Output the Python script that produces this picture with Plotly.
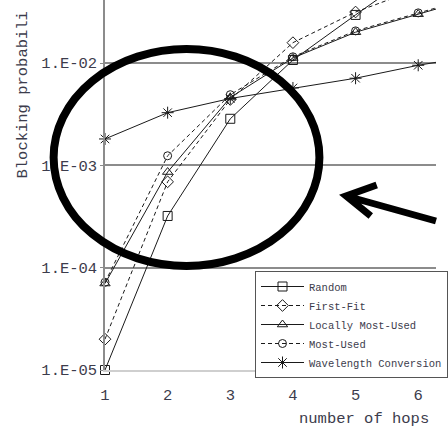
import plotly.graph_objects as go

# ---- data ----
hops = [1, 2, 3, 4, 5, 6, 7]
random_bp = [1.0e-5, 3.2e-4, 2.85e-3, 1.07e-2, 2.95e-2, 8.0e-2, 1.5e-1]
first_fit_bp = [2.0e-5, 6.9e-4, 4.4e-3, 1.58e-2, 3.15e-2, 5.3e-2, 8.5e-2]
locally_most_used_bp = [7.0e-5, 8.6e-4, 4.6e-3, 1.12e-2, 2.0e-2, 3.0e-2, 4.5e-2]
most_used_bp = [7.2e-5, 1.24e-3, 4.9e-3, 1.15e-2, 2.06e-2, 3.09e-2, 4.6e-2]
wavelength_conv_bp = [1.81e-3, 3.27e-3, 4.5e-3, 5.7e-3, 7.1e-3, 9.5e-3, 1.2e-2]

y_tickvals = [1e-5, 1e-4, 1e-3, 1e-2]
y_ticktext = ["1.E-05", "1.E-04", "1.E-03", "1.E-02"]
x_tickvals = [1, 2, 3, 4, 5, 6]

# ---- layout geometry ----
W, H = 448, 430
ML, MR, MT, MB = 105, 8, 0, 60
PW, PH = W - ML - MR, H - MT - MB

def px(x):
    return (x - ML) / PW

def py(y):
    return (H - MB - y) / PH

FONT = "Courier New, Liberation Mono, monospace"
TXT = "#3c3c4c"
LINE = "#1a1a1a"
DASH = "4px,3px"
FS = 15.5

series = [
    ("Random", random_bp, "square-open", 9, "solid"),
    ("First-Fit", first_fit_bp, "diamond-open", 9, DASH),
    ("Locally Most-Used", locally_most_used_bp, "triangle-up-open", 9, "solid"),
    ("Most-Used", most_used_bp, "circle-open", 8, DASH),
    ("Wavelength Conversion", wavelength_conv_bp, "asterisk-open", 10, "solid"),
]

fig = go.Figure()
for name, vals, sym, size, dash in series:
    fig.add_trace(go.Scatter(
        x=hops, y=vals, name=name, mode="lines+markers",
        line=dict(color=LINE, width=1, dash=dash),
        marker=dict(symbol=sym, size=size, color=LINE,
                    line=dict(color=LINE, width=1)),
        cliponaxis=False,
    ))

x_top = 1 + PW / 63.4
dec = (H - MB - 63) / 3.0
y_top = -5 + PH / dec

fig.update_layout(
    width=W, height=H,
    margin=dict(l=ML, r=MR, t=MT, b=MB),
    paper_bgcolor="white", plot_bgcolor="white",
    font=dict(family=FONT, color=TXT, size=FS),
    showlegend=True,
    legend=dict(
        x=px(257), y=py(271), xanchor="left", yanchor="top",
        bgcolor="white", bordercolor="#555555", borderwidth=1,
        font=dict(family=FONT, size=10.5, color=TXT),
        itemwidth=43, tracegroupgap=0,
    ),
    xaxis=dict(
        range=[1, x_top], tickvals=x_tickvals, showgrid=False, zeroline=False,
        showline=True, linecolor="#cfcfcf", linewidth=1.5,
        ticks="", ticklabelstandoff=10,
        tickfont=dict(family=FONT, size=FS, color=TXT),
    ),
    yaxis=dict(
        type="log", range=[-5, y_top], tickvals=y_tickvals, ticktext=y_ticktext,
        showgrid=True, gridcolor="#8c8c8c", gridwidth=1.5, zeroline=False,
        showline=True, linecolor="#8c8c8c", linewidth=1.5,
        ticks="outside", ticklen=3, tickcolor="#8c8c8c",
        tickfont=dict(family=FONT, size=FS, color=TXT),
    ),
)

fig.add_annotation(
    text="number of hops", xref="paper", yref="paper",
    x=px(435), y=py(419), xanchor="right", yanchor="middle",
    showarrow=False, font=dict(family=FONT, size=FS, color=TXT),
)
fig.add_annotation(
    text="Blocking probabili", xref="paper", yref="paper",
    x=px(21), y=py(181), xanchor="center", yanchor="bottom",
    textangle=-90, showarrow=False,
    font=dict(family=FONT, size=FS, color=TXT),
)

# highlight ellipse and arrow
fig.add_shape(
    type="circle", xref="paper", yref="paper",
    x0=px(53), x1=px(322), y0=py(266), y1=py(49),
    line=dict(color="black", width=8), layer="above",
)
arrow_path = (
    f"M{px(440)},{py(221)} L{px(349)},{py(196)} "
    f"M{px(380)},{py(185)} L{px(349)},{py(196)} L{px(374)},{py(216)}"
)
fig.add_shape(
    type="path", xref="paper", yref="paper", path=arrow_path,
    line=dict(color="black", width=7), layer="above",
)

fig.write_html(
    "out.html",
    config={"displayModeBar": False},
    post_script="document.body.style.margin='0';document.body.style.padding='0';",
)
